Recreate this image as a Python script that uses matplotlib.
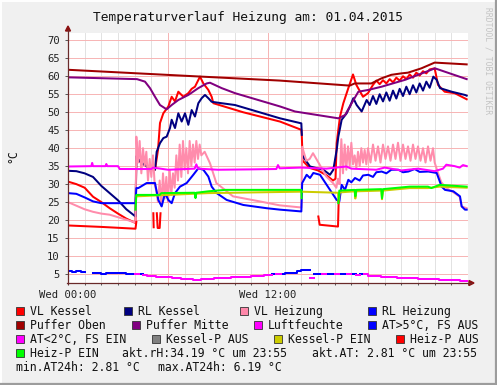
import numpy as np
import matplotlib
matplotlib.use("Agg")
import matplotlib.pyplot as plt
from matplotlib.patches import Rectangle, Polygon
from matplotlib.lines import Line2D

nan = np.nan

# (hour, value) pairs
VL_KESSEL = [
    (0, 30.7), (0.5, 30.0), (1.0, 29.0), (1.5, 26.5), (2.0, 25.0), (2.5, 23.3),
    (3.0, 21.8), (3.5, 20.4), (4.05, 19.2), (4.1, 37.7), (4.32, 36.3), (4.72, 34.9),
    (5.22, 34.0), (5.4, 39.5), (5.52, 47.0), (5.72, 49.7), (6.02, 51.6), (6.22, 54.3),
    (6.42, 53.0), (6.62, 55.7), (6.92, 54.3), (7.22, 55.3), (7.42, 56.5), (7.62, 57.1),
    (7.92, 59.9), (8.12, 58.0), (8.42, 56.2), (8.62, 54.3), (8.72, 52.5), (10.5, 50.0),
    (12.72, 47.4), (14.0, 45.1), (14.03, 43.2), (14.08, 36.5), (14.5, 34.5), (15.0, 33.8),
    (15.5, 32.5), (15.9, 31.0), (16.05, 31.5), (16.12, 41.4), (16.32, 48.8), (16.52, 52.5),
    (16.82, 56.7), (17.02, 59.4), (17.1, 60.5), (17.3, 57.6), (17.7, 54.3), (18.0, 55.3),
    (18.3, 57.6), (18.5, 58.8), (18.7, 57.8), (18.9, 58.9), (19.1, 58.0), (19.3, 59.2),
    (19.5, 58.3), (19.7, 59.6), (19.9, 58.8), (20.1, 60.0), (20.3, 59.2), (20.5, 60.5),
    (20.7, 59.6), (20.9, 61.0), (21.1, 60.2), (21.3, 61.4), (21.5, 60.8), (21.7, 61.9),
    (22.0, 62.2), (22.2, 57.6), (22.6, 55.7), (23.2, 55.3), (23.92, 53.6),
]
RL_KESSEL = [
    (0, 33.7), (0.5, 33.6), (1.0, 33.0), (1.5, 32.0), (2.0, 29.5), (2.5, 27.5),
    (3.0, 25.5), (3.5, 23.0), (4.05, 21.0), (4.1, 37.7), (4.32, 36.3), (4.72, 34.9),
    (5.22, 34.0), (5.32, 39.0), (5.52, 41.4), (5.72, 42.8), (5.92, 43.2), (6.12, 45.6),
    (6.22, 47.9), (6.42, 45.6), (6.62, 49.7), (6.82, 47.4), (7.02, 49.7), (7.22, 46.5),
    (7.42, 50.6), (7.62, 48.8), (7.82, 52.5), (8.02, 53.9), (8.22, 54.8), (8.42, 53.9),
    (8.62, 52.9), (9.22, 52.5), (10.02, 52.0), (12.72, 48.3), (14.0, 46.9), (14.03, 43.7),
    (14.06, nan), (14.1, 37.7), (14.52, 34.9), (15.32, 34.0), (15.72, 32.6), (15.92, 34.0),
    (16.12, 39.5), (16.22, 43.2), (16.42, 47.9), (16.72, 49.7), (16.92, 51.6), (17.12, 53.9),
    (17.32, 52.0), (17.62, 50.2), (17.92, 53.4), (18.1, 52.0), (18.3, 54.5), (18.5, 52.3),
    (18.7, 55.0), (18.9, 53.0), (19.1, 55.5), (19.3, 53.2), (19.5, 56.0), (19.7, 53.8),
    (19.9, 56.5), (20.1, 54.5), (20.3, 57.1), (20.5, 55.0), (20.7, 57.5), (20.9, 55.5),
    (21.1, 58.0), (21.3, 56.0), (21.5, 58.5), (21.7, 56.8), (21.92, 59.9), (22.12, 59.0),
    (22.32, 56.7), (23.02, 55.7), (23.82, 54.8), (23.92, 54.6),
]
VL_HEIZUNG = [
    (0, 25.0), (0.5, 24.0), (1.0, 23.0), (1.5, 22.3), (2.0, 21.8), (2.5, 21.5),
    (3.0, 20.8), (3.5, 20.1), (4.05, 19.3), (4.1, 43.2), (4.2, 36.0), (4.3, 42.0),
    (4.4, 33.0), (4.5, 40.0), (4.6, 35.0), (4.7, 39.0), (4.8, 31.0), (4.9, 37.0),
    (5.0, 32.0), (5.1, 38.0), (5.2, 30.0), (5.3, 28.0), (5.4, 25.0), (5.5, 31.0),
    (5.6, 24.0), (5.7, 33.0), (5.8, 26.0), (5.9, 32.0), (6.0, 25.0), (6.1, 34.0),
    (6.2, 27.0), (6.3, 33.0), (6.4, 29.0), (6.5, 38.0), (6.6, 31.0), (6.7, 41.0),
    (6.8, 32.0), (6.9, 42.0), (7.0, 34.0), (7.1, 40.0), (7.2, 33.0), (7.3, 42.0),
    (7.4, 35.0), (7.5, 41.0), (7.6, 36.0), (7.7, 42.0), (7.8, 37.0), (7.9, 41.0),
    (8.0, 38.0), (8.2, 39.0), (8.4, 37.0), (8.52, 35.8), (8.9, 30.3), (9.9, 26.6),
    (11.5, 25.2), (12.7, 24.1), (14.0, 23.5), (14.05, 40.4), (14.3, 36.5), (14.5, 37.0),
    (14.7, 38.6), (15.1, 35.4), (15.5, 32.1), (15.9, 30.3), (16.1, 29.0), (16.2, 31.5),
    (16.3, 30.0), (16.4, 42.5), (16.5, 33.0), (16.6, 41.0), (16.7, 34.0), (16.8, 40.5),
    (16.9, 35.0), (17.0, 41.5), (17.1, 35.5), (17.2, 38.0), (17.3, 34.5), (17.4, 39.0),
    (17.5, 35.0), (17.6, 40.0), (17.7, 36.0), (17.8, 39.5), (17.9, 35.5), (18.0, 40.0),
    (18.15, 36.0), (18.3, 41.0), (18.45, 36.5), (18.6, 40.5), (18.75, 36.0), (18.9, 41.0),
    (19.05, 37.0), (19.2, 40.5), (19.35, 36.5), (19.5, 41.0), (19.65, 37.0), (19.8, 41.5),
    (19.95, 36.5), (20.1, 41.0), (20.25, 37.0), (20.4, 40.5), (20.55, 36.5), (20.7, 41.0),
    (20.85, 37.0), (21.0, 40.5), (21.15, 36.5), (21.3, 40.0), (21.45, 36.0), (21.6, 40.5),
    (21.75, 36.5), (21.9, 40.0), (22.0, 36.0), (22.2, 33.1), (22.4, 30.5), (22.7, 28.9),
    (23.2, 27.5), (23.5, 26.5), (23.62, 23.8), (23.92, 23.3),
]
RL_HEIZUNG = [
    (0, 27.5), (0.5, 27.3), (1.0, 26.3), (1.5, 25.2), (2.0, 24.7), (4.05, 24.7),
    (4.1, 28.9), (4.22, 28.9), (4.72, 30.3), (5.22, 30.3), (5.42, 25.6), (5.62, 23.8),
    (5.82, 27.5), (6.02, 25.6), (6.22, 24.7), (6.42, 27.5), (6.72, 29.3), (7.12, 30.3),
    (7.52, 32.6), (7.82, 34.4), (8.12, 34.0), (8.42, 32.1), (8.62, 29.3), (8.92, 27.5),
    (9.52, 25.6), (10.52, 24.2), (11.92, 23.3), (12.72, 22.9), (14.0, 22.4), (14.05, 30.3),
    (14.32, 32.6), (14.52, 31.7), (14.72, 33.1), (15.12, 32.6), (15.52, 29.8), (15.92, 27.0),
    (16.12, 25.6), (16.28, 25.2), (16.42, 29.8), (16.62, 28.4), (16.82, 31.2), (17.0, 30.5),
    (17.22, 31.7), (17.5, 31.0), (17.7, 32.4), (18.02, 32.6), (18.3, 32.0), (18.5, 33.3),
    (18.82, 33.5), (19.1, 33.0), (19.4, 34.0), (19.82, 34.0), (20.1, 33.3), (20.42, 33.5),
    (20.8, 34.2), (21.1, 33.4), (21.62, 33.5), (22.12, 33.1), (22.42, 29.3), (22.62, 28.4),
    (23.12, 28.0), (23.52, 26.6), (23.62, 23.8), (23.82, 22.9), (23.92, 22.9),
]
PUFFER_OBEN = [
    (0, 61.8), (8.0, 59.9), (12.7, 58.8), (16.9, 57.4), (17.2, 58.0), (18.2, 58.0),
    (18.8, 59.4), (19.4, 60.4), (20.0, 60.8), (20.4, 61.0), (21.2, 62.2), (22.0, 63.8),
    (23.92, 63.3),
]
PUFFER_MITTE = [
    (0, 59.7), (4.14, 59.2), (4.62, 58.5), (4.92, 56.7), (5.22, 54.3), (5.52, 52.0),
    (5.92, 50.8), (6.22, 52.0), (6.62, 53.4), (7.22, 54.8), (7.82, 56.7), (8.32, 58.0),
    (8.52, 58.2), (9.22, 56.7), (10.02, 55.3), (12.72, 51.6), (13.62, 50.2), (16.22, 48.3),
    (16.62, 49.2), (17.02, 52.5), (17.42, 55.7), (18.02, 56.2), (18.82, 57.1), (20.22, 59.0),
    (22.02, 62.2), (23.92, 59.2),
]
LUFTFEUCHTE = [
    (0, 34.9), (1.4, 35.0), (1.45, 35.9), (1.5, 35.0), (2.25, 35.0), (2.3, 35.6),
    (2.35, 35.0), (3.0, 35.0), (3.1, 34.2), (5.0, 34.2), (5.1, 34.6), (6.0, 34.0),
    (7.6, 34.3), (7.7, 35.5), (7.8, 34.3), (9.0, 34.0), (11.0, 34.1), (12.5, 34.2),
    (12.6, 35.3), (12.7, 34.4), (14.0, 34.6), (15.5, 34.3), (16.7, 34.9), (17.0, 34.3),
    (18.5, 34.0), (19.0, 34.6), (20.0, 33.8), (21.0, 34.3), (22.0, 33.6), (22.5, 34.3),
    (22.7, 35.4), (23.2, 35.0), (23.5, 34.6), (23.7, 35.3), (23.92, 35.0),
]
KESSEL_P_EIN = [
    (4.1, 26.6), (8.4, 27.5), (14.0, 27.9), (16.2, 27.6), (16.24, 24.9), (16.3, 27.7),
    (17.2, 28.0), (17.24, 26.0), (17.3, 28.0), (18.8, 28.2), (18.84, 25.8), (18.9, 28.2),
    (20.5, 28.9), (21.6, 28.9), (22.3, 29.3), (23.92, 29.0),
]
HEIZ_P_AUS = [
    (0, 18.5), (2.0, 18.1), (4.05, 17.6), (4.1, 19.5), (4.12, nan), (5.12, 21.9),
    (5.14, 18.0), (5.16, nan), (5.33, 21.9), (5.38, 17.8), (5.5, 17.8), (5.55, 21.9),
    (5.57, nan), (15.02, 21.0), (15.1, 18.7), (16.2, 18.2), (16.24, 25.2),
]
HEIZ_P_EIN = [
    (4.05, 22.9), (4.1, 27.0), (5.5, 27.0), (5.6, 27.5), (7.6, 27.6), (7.65, 26.1),
    (7.7, 27.6), (8.42, 28.0), (9.42, 28.4), (14.0, 28.4), (14.02, 26.1), (14.04, nan),
    (16.22, 24.7), (16.28, 28.2), (17.2, 28.4), (17.24, 26.6), (17.3, 28.4), (18.8, 28.6),
    (18.84, 26.1), (18.9, 28.6), (20.5, 29.3), (21.6, 29.3), (21.8, 28.9), (22.3, 29.8),
    (23.92, 29.3),
]
# outdoor temperature, one value per quarter hour
AT_VALUES = [
    5.7, 5.6, 5.8, 5.6, nan, nan, 5.2, 5.3, 5.1, 5.3, 5.2, 5.4, 5.2, 5.3, 5.1,
    5.1, 4.9, 5.0, 4.8,
    4.5, 4.4, 4.3, 4.3, 4.2, 4.1, 4.0, 3.9, 3.7, 3.6, 3.5, 3.4, 3.4, 3.5, 3.6,
    3.7, 3.8, 3.9, 4.0, 4.0, 4.1, 4.2, 4.2, 4.3, 4.3, 4.4, 4.4, 4.5, 4.6,
    4.8, 5.0, 4.9, 5.1, 5.3, 5.2, 5.4, 5.7, 6.2, 6.1, 3.9,
    5.1, 5.0, 4.9, 5.1, 5.0, 4.9, 5.0, 5.1, 4.9, 5.0, 4.8, 5.0, 4.9,
    4.5, 4.4, 4.4, 4.3, 4.2, 4.2, 4.1, 4.0, 4.0, 3.9, 3.8, 3.8, 3.7, 3.6, 3.6,
    3.5, 3.5, 3.4, 3.3, 3.3, 3.2, 3.2, 3.1, 3.0, nan,
]

LEGEND_ROWS = [
    [("VL Kessel", "#FF0000", 16), ("RL Kessel", "#000080", 124),
     ("VL Heizung", "#FF88AA", 240), ("RL Heizung", "#0000FF", 368)],
    [("Puffer Oben", "#A00000", 16), ("Puffer Mitte", "#800080", 132),
     ("Luftfeuchte", "#FF00FF", 254), ("AT>5°C, FS AUS", "#0000FF", 368)],
    [("AT<2°C, FS EIN", "#FF00FF", 16), ("Kessel-P AUS", "#808080", 152),
     ("Kessel-P EIN", "#CCCC00", 274), ("Heiz-P AUS", "#FF0000", 396)],
    [("Heiz-P EIN", "#00FF00", 16)],
]
INFO_TEXTS = [
    ("akt.rH:34.19 °C um 23:55", 122, 353),
    ("akt.AT: 2.81 °C um 23:55", 312, 353),
    ("min.AT24h: 2.81 °C", 16, 367),
    ("max.AT24h: 6.19 °C", 158, 367),
]

W, H = 497, 385
MONO = "DejaVu Sans Mono"


def fx(x):
    return x / W


def fy(y):
    return 1 - y / H


def split(pairs):
    t = np.array([p[0] for p in pairs], dtype=float)
    v = np.array([p[1] for p in pairs], dtype=float)
    return t, v


fig = plt.figure(figsize=(W / 100, H / 100), dpi=100)
fig.patch.set_facecolor("#F0F0F0")
ax = fig.add_axes([fx(68), fy(283), 400 / W, 250 / H])
ax.set_facecolor("white")
ax.set_xlim(0, 24)
ax.set_ylim(2.5, 72.03)
for s in ax.spines.values():
    s.set_visible(False)

# grid
for h in range(1, 24):
    ax.axvline(h, color="#E2E2E2", lw=0.7, zorder=0)
for h in range(0, 25, 6):
    ax.axvline(h, color="#F7B4B4", lw=0.7, zorder=0.5)
for v in range(5, 71, 5):
    ax.axhline(v, color="#F7B4B4", lw=0.7, zorder=0.5)

lw = 1.45
series = [
    (VL_KESSEL, "#FF0000"),
    (RL_KESSEL, "#000080"),
    (VL_HEIZUNG, "#FF8CAC"),
    (RL_HEIZUNG, "#0000FF"),
    (PUFFER_OBEN, "#A00000"),
    (PUFFER_MITTE, "#800080"),
    (LUFTFEUCHTE, "#FF00FF"),
]
for pairs, color in series:
    t, v = split(pairs)
    ax.plot(t, v, color=color, lw=lw, zorder=2)

at = np.array(AT_VALUES, dtype=float)
at_t = np.linspace(0, 24, len(at))
ax.plot(at_t, np.where(at >= 5.0, at, nan), color="#0000FF", lw=lw,
        drawstyle="steps-post", zorder=2)
ax.plot(at_t, np.where(at < 5.0, at, nan), color="#FF00FF", lw=lw,
        drawstyle="steps-post", zorder=2)

for pairs, color in [(KESSEL_P_EIN, "#CCCC00"), (HEIZ_P_AUS, "#FF0000"),
                     (HEIZ_P_EIN, "#00FF00")]:
    t, v = split(pairs)
    ax.plot(t, v, color=color, lw=lw, zorder=2)

# ticks
ax.set_yticks(range(5, 71, 5))
ax.set_yticklabels([str(v) for v in range(5, 71, 5)], family=MONO, fontsize=7.6)
ax.set_xticks([0, 12])
ax.set_xticklabels(["Wed 00:00", "Wed 12:00"], family=MONO, fontsize=7.6)
ax.set_xticks(range(0, 25), minor=True)
ax.tick_params(axis="y", length=2.2, width=0.7, color="#555555", pad=3.6, colors="#222222")
ax.tick_params(axis="x", which="both", length=1.6, width=0.7, color="#555555",
               pad=3.2, colors="#222222")

# axis lines with arrows
axis_col = "#6A2A2A"
fig.add_artist(Line2D([fx(68), fx(68)], [fy(284), fy(30)], color=axis_col, lw=0.9))
fig.add_artist(Line2D([fx(67), fx(471)], [fy(283), fy(283)], color=axis_col, lw=0.9))
fig.add_artist(Polygon([[fx(65.5), fy(31)], [fx(70.5), fy(31)], [fx(68), fy(26)]],
                       closed=True, transform=fig.transFigure, color="#8B1010"))
fig.add_artist(Polygon([[fx(469), fy(280.5)], [fx(469), fy(285.5)], [fx(474), fy(283)]],
                       closed=True, transform=fig.transFigure, color="#8B1010"))

# title, unit, watermark
fig.text(fx(248), fy(17), "Temperaturverlauf Heizung am: 01.04.2015", family=MONO,
         fontsize=9.3, ha="center", va="center", color="#111111")
fig.text(fx(13), fy(156), "°C", family=MONO, fontsize=8.3, rotation=90,
         ha="center", va="center", color="#111111")
fig.text(fx(488), fy(7), "RRDTOOL / TOBI OETIKER", family=MONO, fontsize=5.8,
         rotation=-90, ha="center", va="top", color="#C4C4C4")

# legend
for r, row in enumerate(LEGEND_ROWS):
    yc = 311.3 + 14 * r
    for label, color, x in row:
        fig.add_artist(Rectangle((fx(x), fy(yc + 4)), 8 / W, 8 / H,
                                 transform=fig.transFigure, facecolor=color,
                                 edgecolor="#333333", lw=0.6))
        fig.text(fx(x + 14), fy(yc + 4), label, family=MONO, fontsize=8.3,
                 ha="left", va="baseline", color="#111111")
for label, x, yc in INFO_TEXTS:
    fig.text(fx(x), fy(yc + 4), label, family=MONO, fontsize=8.3,
             ha="left", va="baseline", color="#111111")

# frame shading
fig.add_artist(Line2D([0, 1], [fy(1), fy(1)], color="#FFFFFF", lw=1.4))
fig.add_artist(Line2D([fx(1), fx(1)], [0, 1], color="#FFFFFF", lw=1.4))
fig.add_artist(Line2D([0, 1], [fy(384), fy(384)], color="#9C9C9C", lw=1.6))
fig.add_artist(Line2D([fx(496), fx(496)], [0, 1], color="#9C9C9C", lw=1.6))

fig.savefig("out.png", dpi=100, facecolor=fig.get_facecolor())
